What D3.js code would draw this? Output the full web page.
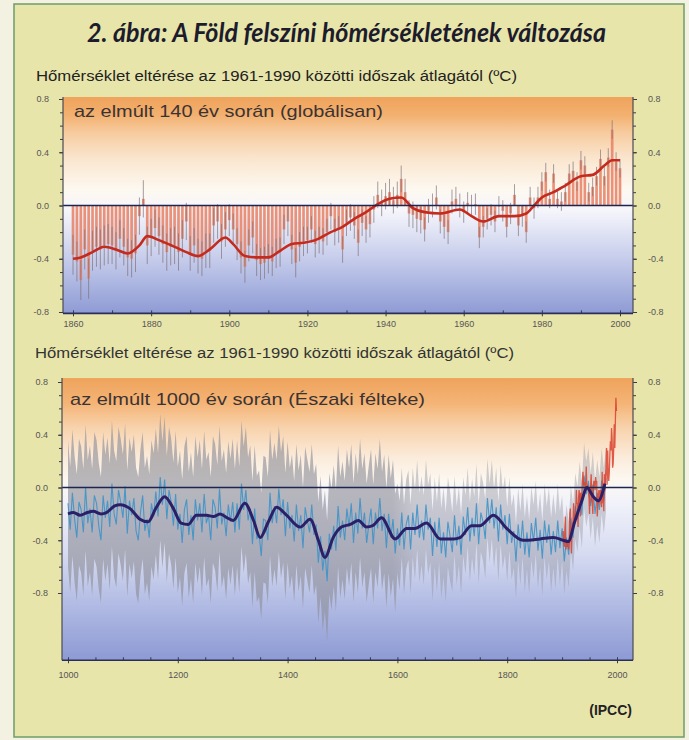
<!DOCTYPE html>
<html>
<head>
<meta charset="utf-8">
<script src="https://cdn.jsdelivr.net/npm/d3@7"></script>
<style>
  body { margin: 0; background: #f3f1e2; }
  svg { display: block; font-family: "Liberation Sans", Arial, sans-serif; }
</style>
</head>
<body>
<svg id="chart" width="689" height="740"></svg>
<script>
// ---------- data ----------

// global annual anomaly (°C from 1961-1990 mean), 1860 .. 2000
const globalStart = 1860;
const globalAnomaly = [
  -0.37,-0.42,-0.56,-0.33,-0.55,-0.34,-0.31,-0.33,-0.30,-0.29,
  -0.30,-0.34,-0.25,-0.31,-0.39,-0.40,-0.36,-0.08,0.05,-0.30,
  -0.24,-0.17,-0.23,-0.29,-0.35,-0.31,-0.30,-0.35,-0.25,-0.12,
  -0.36,-0.30,-0.38,-0.40,-0.34,-0.34,-0.15,-0.12,-0.27,-0.18,
  -0.11,-0.18,-0.29,-0.39,-0.46,-0.30,-0.24,-0.41,-0.44,-0.43,
  -0.40,-0.42,-0.36,-0.35,-0.18,-0.12,-0.33,-0.43,-0.31,-0.27,
  -0.26,-0.18,-0.29,-0.26,-0.27,-0.20,-0.08,-0.20,-0.18,-0.33,
  -0.13,-0.09,-0.15,-0.28,-0.13,-0.18,-0.14,-0.03,0.08,0.02,
  0.07,0.10,0.04,0.08,0.20,0.10,-0.06,-0.07,-0.10,-0.11,
  -0.18,-0.04,0.00,0.06,-0.12,-0.16,-0.20,0.03,0.05,0.00,
  -0.05,0.02,0.00,0.01,-0.24,-0.16,-0.10,-0.07,-0.12,-0.01,
  -0.04,-0.16,-0.06,0.08,-0.15,-0.08,-0.20,0.06,-0.02,0.06,
  0.18,0.25,0.05,0.24,0.05,0.03,0.10,0.24,0.26,0.18,
  0.34,0.30,0.10,0.14,0.22,0.35,0.22,0.36,0.57,0.33,0.28
];
// error whisker half-length per decade (1860s .. 2000)
const globalError = [0.15,0.14,0.14,0.13,0.12,0.11,0.10,0.10,0.10,0.09,0.08,0.08,0.07,0.07,0.07];

// smoothed global curve
const globalSmoothYears = [1860,1862,1865,1868,1871,1874,1877,1879,1882,1886,1889,1892,1895,1899,1901,1904,1907,1910,1913,1916,1919,1922,1926,1929,1932,1935,1938,1941,1944,1947,1950,1954,1959,1962,1965,1969,1973,1976,1978,1980,1983,1986,1990,1993,1996,1998,2000];
const globalSmoothValues = [-0.40,-0.39,-0.35,-0.31,-0.33,-0.36,-0.30,-0.23,-0.26,-0.31,-0.35,-0.38,-0.33,-0.24,-0.29,-0.38,-0.39,-0.39,-0.34,-0.29,-0.28,-0.26,-0.20,-0.16,-0.10,-0.05,0.01,0.05,0.06,-0.02,-0.05,-0.06,-0.03,-0.08,-0.12,-0.08,-0.08,-0.06,0.00,0.06,0.10,0.15,0.22,0.23,0.30,0.34,0.34];

// northern hemisphere reconstruction, every 4th year 1000 .. 1980
const nhStart = 1000;
const nhStep = 4;
const nhProxy = [
  -0.12,-0.32,-0.04,-0.24,-0.38,-0.11,-0.17,-0.34,0.00,-0.27,-0.16,-0.34,-0.06,-0.12,-0.29,-0.40,-0.06,-0.23,-0.10,-0.30,0.03,-0.20,-0.28,-0.02,-0.11,
  -0.23,0.01,-0.35,-0.10,-0.21,-0.08,-0.33,-0.40,-0.19,-0.06,-0.33,-0.24,-0.38,-0.12,-0.22,-0.03,-0.22,0.08,-0.13,0.06,-0.24,-0.02,-0.11,-0.29,-0.05,
  -0.32,-0.20,-0.42,-0.17,-0.09,-0.36,-0.21,-0.40,-0.09,-0.25,-0.12,-0.34,-0.05,-0.27,-0.21,-0.40,-0.09,-0.15,-0.31,-0.01,-0.28,-0.19,-0.37,-0.13,-0.26,
  -0.11,-0.34,-0.12,-0.32,0.03,-0.17,-0.02,-0.25,-0.16,-0.43,-0.16,-0.39,-0.35,-0.52,-0.24,-0.25,-0.40,-0.04,-0.27,-0.14,-0.27,-0.01,-0.21,-0.09,-0.37,
  -0.11,-0.31,-0.21,-0.41,-0.13,-0.33,-0.21,-0.46,-0.15,-0.25,-0.34,-0.13,-0.36,-0.28,-0.57,-0.37,-0.63,-0.48,-0.71,-0.35,-0.47,-0.29,-0.48,-0.14,-0.38,
  -0.25,-0.40,-0.16,-0.30,-0.12,-0.42,-0.19,-0.35,-0.08,-0.31,-0.19,-0.42,-0.28,-0.16,-0.43,-0.19,-0.31,-0.08,-0.33,-0.20,-0.46,-0.20,-0.38,-0.24,-0.50,
  -0.31,-0.44,-0.19,-0.47,-0.28,-0.21,-0.47,-0.19,-0.36,-0.13,-0.38,-0.25,-0.40,-0.13,-0.32,-0.23,-0.52,-0.26,-0.45,-0.23,-0.50,-0.34,-0.53,-0.26,-0.37,
  -0.49,-0.21,-0.44,-0.29,-0.51,-0.22,-0.36,-0.15,-0.41,-0.23,-0.37,-0.12,-0.43,-0.19,-0.26,-0.39,-0.08,-0.27,-0.09,-0.31,-0.15,-0.41,-0.13,-0.32,-0.21,
  -0.43,-0.20,-0.42,-0.33,-0.56,-0.28,-0.46,-0.25,-0.51,-0.34,-0.53,-0.27,-0.41,-0.23,-0.48,-0.32,-0.54,-0.25,-0.42,-0.28,-0.51,-0.33,-0.49,-0.25,-0.46,
  -0.31,-0.56,-0.38,-0.51,-0.23,-0.38,-0.14,-0.24,-0.05,-0.21,0.09,-0.05,0.05,-0.14,0.02,-0.20,-0.04,-0.17,0.05,-0.10,0.07
];
// 2-sigma uncertainty per century (1000s .. 1900s)
const nhUncertainty = [0.48,0.48,0.48,0.48,0.46,0.45,0.34,0.30,0.28,0.25];

// smoothed reconstruction
const nhSmoothYears = [1000,1010,1022,1035,1046,1060,1070,1085,1095,1113,1131,1146,1161,1176,1192,1206,1219,1234,1252,1265,1277,1290,1301,1322,1338,1350,1365,1380,1398,1423,1441,1456,1468,1483,1498,1514,1529,1544,1555,1571,1596,1617,1632,1653,1678,1702,1714,1735,1750,1775,1799,1829,1860,1884,1902,1911,1923,1936,1945,1957,1966,1978];
const nhSmoothValues = [-0.20,-0.19,-0.21,-0.19,-0.18,-0.20,-0.19,-0.14,-0.13,-0.16,-0.24,-0.26,-0.15,-0.07,-0.16,-0.27,-0.28,-0.21,-0.21,-0.22,-0.20,-0.23,-0.25,-0.12,-0.25,-0.38,-0.26,-0.15,-0.21,-0.30,-0.24,-0.40,-0.53,-0.38,-0.30,-0.28,-0.25,-0.30,-0.29,-0.23,-0.39,-0.31,-0.31,-0.27,-0.39,-0.39,-0.38,-0.29,-0.29,-0.21,-0.31,-0.40,-0.39,-0.38,-0.40,-0.41,-0.26,-0.10,0.00,-0.07,-0.10,0.03];

// instrumental northern hemisphere record, 1902 .. 1999
const nhInstrStart = 1902;
const nhInstrumental = [
  -0.33,-0.42,-0.45,-0.33,-0.22,-0.47,-0.42,-0.45,
  -0.40,-0.42,-0.47,-0.40,-0.20,-0.16,-0.35,-0.50,-0.36,-0.28,
  -0.25,-0.12,-0.25,-0.20,-0.25,-0.15,-0.02,-0.12,-0.12,-0.30,
  -0.08,-0.02,-0.05,-0.22,-0.04,-0.10,-0.05,0.05,0.12,0.02,
  0.02,0.04,-0.02,0.05,0.16,0.02,-0.02,0.02,-0.04,-0.08,
  -0.20,-0.05,0.02,0.10,-0.10,-0.12,-0.20,0.02,0.05,0.03,
  -0.02,0.08,0.04,0.05,-0.22,-0.15,-0.08,-0.02,-0.12,-0.03,
  -0.02,-0.12,-0.15,0.12,-0.12,-0.05,-0.18,0.10,-0.02,0.08,
  0.15,0.30,0.02,0.28,0.10,0.05,0.12,0.25,0.35,0.28,
  0.45,0.38,0.15,0.18,0.30,0.48,0.30,0.50,0.68,0.58
];

// tick labels
const yTickLabels = [-0.8, -0.4, 0, 0.4, 0.8];
const topYearLabels = [1860, 1880, 1900, 1920, 1940, 1960, 1980, 2000];
const bottomYearLabels = [1000, 1200, 1400, 1600, 1800, 2000];

// ---------- page ----------
const svg = d3.select('#chart');
const defs = svg.append('defs');

// framed box
svg.append('rect')
  .attr('x', 14).attr('y', 4)
  .attr('width', 670).attr('height', 733)
  .attr('fill', '#e8e5ab')
  .attr('stroke', '#6f9c68')
  .attr('stroke-width', 1.5);

svg.append('text')
  .attr('x', 87).attr('y', 42)
  .attr('textLength', 519)
  .attr('lengthAdjust', 'spacingAndGlyphs')
  .style('font-family', 'Lato, "Open Sans", sans-serif')
  .style('font-style', 'italic')
  .style('font-weight', 'bold')
  .style('font-size', '27px')
  .attr('fill', '#1c1c2c')
  .text('2. ábra: A Föld felszíni hőmérsékletének változása');

const subtitle = 'Hőmérséklet eltérése az 1961-1990 közötti időszak átlagától (ºC)';
svg.append('text')
  .attr('x', 36).attr('y', 81)
  .attr('textLength', 481).attr('lengthAdjust', 'spacingAndGlyphs')
  .style('font-size', '14px').attr('fill', '#222')
  .text(subtitle);
svg.append('text')
  .attr('x', 35).attr('y', 358)
  .attr('textLength', 479).attr('lengthAdjust', 'spacingAndGlyphs')
  .style('font-size', '14px').attr('fill', '#333')
  .text(subtitle);

svg.append('text')
  .attr('x', 632).attr('y', 715)
  .attr('text-anchor', 'end')
  .style('font-size', '14px').style('font-weight', 'bold')
  .attr('fill', '#222')
  .text('(IPCC)');

const fmt = d => d.toFixed(1);

// build one panel: background gradient, scales, clip
function makePanel(cfg) {
  const g = svg.append('g');
  const x = d3.scaleLinear().domain(cfg.xDomain).range(cfg.xRange);
  const y = d3.scaleLinear().domain([-0.8, 0.8]).range(cfg.yRange);
  const y0 = y(cfg.yTop), y1 = y(cfg.yBottom);

  const grad = defs.append('linearGradient')
    .attr('id', cfg.id + '-bg')
    .attr('gradientUnits', 'userSpaceOnUse')
    .attr('x1', 0).attr('x2', 0)
    .attr('y1', y0).attr('y2', y1);
  cfg.stops.forEach(s => {
    grad.append('stop')
      .attr('offset', (y(s[0]) - y0) / (y1 - y0))
      .attr('stop-color', s[1]);
  });

  defs.append('clipPath').attr('id', cfg.id + '-clip')
    .append('rect')
    .attr('x', cfg.left).attr('y', y0)
    .attr('width', cfg.right - cfg.left).attr('height', y1 - y0);

  g.append('rect')
    .attr('x', cfg.left).attr('y', y0)
    .attr('width', cfg.right - cfg.left).attr('height', y1 - y0)
    .attr('fill', `url(#${cfg.id}-bg)`);

  const plot = g.append('g').attr('clip-path', `url(#${cfg.id}-clip)`);
  return { g, plot, x, y, top: y0, bottom: y1, left: cfg.left, right: cfg.right };
}

function styleAxis(sel) {
  sel.select('.domain').remove();
  sel.selectAll('line').attr('stroke', '#3a3a48').attr('stroke-width', 1);
  sel.selectAll('text').attr('fill', '#555').style('font-size', '9px')
    .style('font-family', '"Liberation Sans", Arial, sans-serif');
}

function drawAxes(p, yearLabels, minorStep, labelPad) {
  const minorY = p.y.ticks(16);
  // left
  p.g.append('g').attr('transform', `translate(${p.left},0)`)
    .call(d3.axisLeft(p.y).tickValues(minorY).tickSize(3).tickFormat(''))
    .call(styleAxis);
  p.g.append('g').attr('transform', `translate(${p.left},0)`)
    .call(d3.axisLeft(p.y).tickValues(yTickLabels).tickSize(4).tickPadding(10).tickFormat(fmt))
    .call(styleAxis);
  // right
  p.g.append('g').attr('transform', `translate(${p.right},0)`)
    .call(d3.axisRight(p.y).tickValues(minorY).tickSize(3).tickFormat(''))
    .call(styleAxis);
  p.g.append('g').attr('transform', `translate(${p.right},0)`)
    .call(d3.axisRight(p.y).tickValues(yTickLabels).tickSize(4).tickPadding(11).tickFormat(fmt))
    .call(styleAxis);
  // bottom
  const [x0, x1] = p.x.domain();
  const minorX = d3.range(x0, x1 + 1, minorStep);
  p.g.append('g').attr('transform', `translate(0,${p.bottom})`)
    .call(d3.axisBottom(p.x).tickValues(minorX).tickSizeInner(-3).tickSizeOuter(0).tickFormat(''))
    .call(styleAxis);
  p.g.append('g').attr('transform', `translate(0,${p.bottom})`)
    .call(d3.axisBottom(p.x).tickValues(yearLabels).tickSize(3).tickPadding(labelPad).tickFormat(d3.format('d')))
    .call(styleAxis);

  // spines
  p.g.append('line')
    .attr('x1', p.left).attr('x2', p.left).attr('y1', p.top).attr('y2', p.bottom)
    .attr('stroke', '#4a4a55').attr('stroke-width', 1.2);
  p.g.append('line')
    .attr('x1', p.right).attr('x2', p.right).attr('y1', p.top).attr('y2', p.bottom)
    .attr('stroke', '#4a4a55').attr('stroke-width', 1.2);
  p.g.append('line')
    .attr('x1', p.left).attr('x2', p.right).attr('y1', p.bottom).attr('y2', p.bottom)
    .attr('stroke', '#2a2f5a').attr('stroke-width', 1.6);
}

function zeroLine(p) {
  p.g.append('line')
    .attr('x1', p.left).attr('x2', p.right)
    .attr('y1', p.y(0)).attr('y2', p.y(0))
    .attr('stroke', '#1d2650').attr('stroke-width', 1.6);
}

// ---------- top panel: last 140 years (global) ----------
const globPanel = makePanel({
  id: 'glob',
  xDomain: [1860, 2000], xRange: [73, 620],
  yRange: [312, 99],
  yTop: 0.815, yBottom: -0.81,
  left: 63, right: 633,
  stops: [
    [0.815, '#efa35c'], [0.68, '#f2b06f'], [0.55, '#f7cb9e'], [0.35, '#fae6cf'],
    [0.12, '#fdf8f0'], [-0.03, '#f6f6fb'], [-0.3, '#d3d8f0'], [-0.6, '#aab4e0'], [-0.81, '#8e9bd4']
  ]
});

const globalData = globalAnomaly.map((v, i) => ({
  year: globalStart + i,
  value: v,
  err: globalError[Math.floor(i / 10)]
}));

const barW = (globPanel.x(1861) - globPanel.x(1860)) * 0.68;

globPanel.plot.selectAll('rect.bar')
  .data(globalData)
  .enter().append('rect')
  .attr('class', 'bar')
  .attr('x', d => globPanel.x(d.year) - barW / 2)
  .attr('width', barW)
  .attr('y', d => Math.min(globPanel.y(d.value), globPanel.y(0)))
  .attr('height', d => Math.abs(globPanel.y(d.value) - globPanel.y(0)))
  .attr('fill', '#e8866a')
  .attr('opacity', 0.9);

globPanel.plot.selectAll('line.err')
  .data(globalData)
  .enter().append('line')
  .attr('class', 'err')
  .attr('x1', d => globPanel.x(d.year)).attr('x2', d => globPanel.x(d.year))
  .attr('y1', d => globPanel.y(d.value - d.err))
  .attr('y2', d => globPanel.y(d.value + d.err))
  .attr('stroke', '#7f6f78')
  .attr('stroke-width', 0.9)
  .attr('opacity', 0.75);

zeroLine(globPanel);

const globalSmooth = globalSmoothYears.map((yr, i) => [yr, globalSmoothValues[i]]);
globPanel.plot.append('path')
  .datum(globalSmooth)
  .attr('fill', 'none')
  .attr('stroke', '#c42a1e')
  .attr('stroke-width', 2.6)
  .attr('d', d3.line().curve(d3.curveMonotoneX).x(d => globPanel.x(d[0])).y(d => globPanel.y(d[1])));

drawAxes(globPanel, topYearLabels, 10, 4);

globPanel.g.append('text')
  .attr('x', 74).attr('y', 117)
  .attr('textLength', 309).attr('lengthAdjust', 'spacingAndGlyphs')
  .style('font-size', '17px').attr('fill', '#3b3333')
  .text('az elmúlt 140 év során (globálisan)');

// ---------- bottom panel: last 1000 years (northern hemisphere) ----------
const nhPanel = makePanel({
  id: 'nh',
  xDomain: [1000, 2000], xRange: [68, 617],
  yRange: [593, 382],
  yTop: 0.83, yBottom: -1.31,
  left: 62, right: 633,
  stops: [
    [0.83, '#efa35c'], [0.64, '#f4b476'], [0.45, '#f8d3ad'], [0.22, '#fbecdc'],
    [0.05, '#fcf8f1'], [-0.1, '#f2f3fa'], [-0.5, '#d6dbf1'], [-0.9, '#b0bae3'], [-1.31, '#8d9ad4']
  ]
});

const nhData = nhProxy.map((v, i) => {
  const yr = nhStart + i * nhStep;
  return { year: yr, value: v, u: nhUncertainty[Math.min(9, Math.floor((yr - 1000) / 100))] };
});

// band fades after 1600, as in the printed figure
const bandGrad = defs.append('linearGradient')
  .attr('id', 'band-fill')
  .attr('gradientUnits', 'userSpaceOnUse')
  .attr('x1', nhPanel.x(1000)).attr('x2', nhPanel.x(2000))
  .attr('y1', 0).attr('y2', 0);
[[1000, 0.62], [1590, 0.62], [1630, 0.42], [2000, 0.38]].forEach(s => {
  bandGrad.append('stop')
    .attr('offset', (s[0] - 1000) / 1000)
    .attr('stop-color', '#8e8e98')
    .attr('stop-opacity', s[1]);
});

nhPanel.plot.append('path')
  .datum(nhData)
  .attr('fill', 'url(#band-fill)')
  .attr('d', d3.area()
    .x(d => nhPanel.x(d.year))
    .y0(d => nhPanel.y(d.value - d.u))
    .y1(d => nhPanel.y(d.value + d.u)));

zeroLine(nhPanel);

// annual reconstruction
nhPanel.plot.append('path')
  .datum(nhData)
  .attr('fill', 'none')
  .attr('stroke', '#3f92c6')
  .attr('stroke-width', 1.1)
  .attr('opacity', 0.9)
  .attr('d', d3.line().x(d => nhPanel.x(d.year)).y(d => nhPanel.y(d.value)));

// instrumental record
const instrData = nhInstrumental.map((v, i) => [nhInstrStart + i, v]);
nhPanel.plot.append('path')
  .datum(instrData)
  .attr('fill', 'none')
  .attr('stroke', '#d9402c')
  .attr('stroke-width', 1.3)
  .attr('opacity', 0.85)
  .attr('d', d3.line().x(d => nhPanel.x(d[0])).y(d => nhPanel.y(d[1])));

// smoothed reconstruction
const nhSmooth = nhSmoothYears.map((yr, i) => [yr, nhSmoothValues[i]]);
nhPanel.plot.append('path')
  .datum(nhSmooth)
  .attr('fill', 'none')
  .attr('stroke', '#2b1f68')
  .attr('stroke-width', 3)
  .attr('d', d3.line().curve(d3.curveMonotoneX).x(d => nhPanel.x(d[0])).y(d => nhPanel.y(d[1])));

drawAxes(nhPanel, bottomYearLabels, 50, 8);

nhPanel.g.append('text')
  .attr('x', 70).attr('y', 405)
  .attr('textLength', 355).attr('lengthAdjust', 'spacingAndGlyphs')
  .style('font-size', '17px').attr('fill', '#3b3333')
  .text('az elmúlt 1000 év során (Északi félteke)');
</script>
</body>
</html>
